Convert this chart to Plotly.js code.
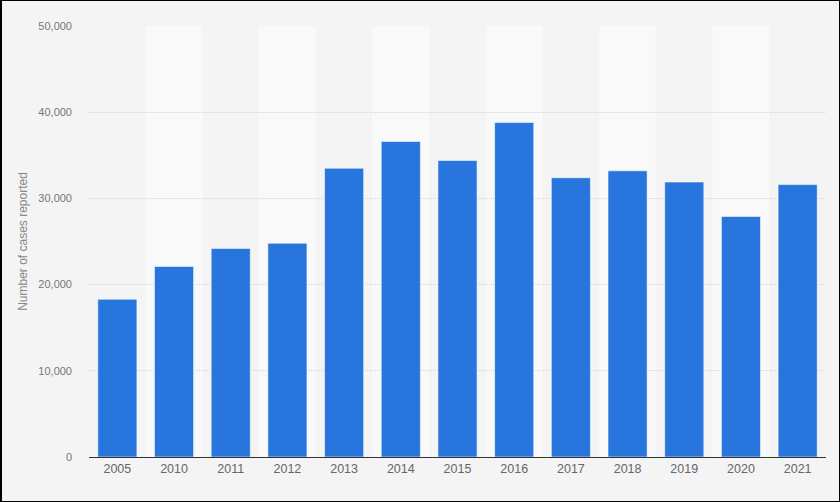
<!DOCTYPE html>
<html>
<head>
<meta charset="utf-8">
<script src="https://cdn.plot.ly/plotly-3.0.1.min.js"></script>
<style>
  html, body { margin: 0; padding: 0; background: #f4f4f4; }
  #wrap { position: relative; width: 840px; height: 502px; }
  #chart { width: 840px; height: 502px; }
  #frame { position: absolute; left: 0; top: 0; width: 840px; height: 502px; box-sizing: border-box;
           border: 1px solid #000; border-left-width: 2px; pointer-events: none; }
</style>
</head>
<body>
<div id="wrap">
  <div id="chart"></div>
  <div id="frame"></div>
</div>
<script>
const years = ["2005", "2010", "2011", "2012", "2013", "2014", "2015", "2016", "2017", "2018", "2019", "2020", "2021"];
const cases = [18300, 22100, 24200, 24800, 33500, 36600, 34400, 38800, 32400, 33200, 31900, 27900, 31600];
const yTicks = [0, 10000, 20000, 30000, 40000, 50000];

const bands = [];
years.forEach((y, i) => {
  if (i % 2 === 1) {
    bands.push({
      type: 'rect', xref: 'x', yref: 'y', layer: 'below',
      x0: i - 0.5, x1: i + 0.5, y0: 0, y1: 50000,
      fillcolor: '#f9f9f9', line: { width: 0 }
    });
  }
});

const trace = {
  type: 'bar',
  x: years.map((_, i) => i),
  y: cases,
  marker: { color: '#2876dd', line: { color: 'rgba(255,255,255,0.55)', width: 1 } },
  hoverinfo: 'none'
};

const layout = {
  width: 840, height: 502,
  margin: { l: 89, r: 14, t: 26, b: 45 },
  paper_bgcolor: '#f4f4f4',
  plot_bgcolor: '#f4f4f4',
  font: { family: 'Liberation Sans, Arial, sans-serif', color: '#666' },
  bargap: 0.31,
  showlegend: false,
  shapes: bands,
  xaxis: {
    type: 'linear',
    range: [-0.5, years.length - 0.5],
    tickvals: years.map((_, i) => i),
    ticktext: years,
    tickfont: { size: 12.5, color: '#666' },
    showgrid: false, zeroline: false,
    showline: true, linecolor: '#333', linewidth: 1,
    ticks: '', fixedrange: true
  },
  yaxis: {
    range: [0, 50000],
    tickvals: yTicks,
    ticktext: yTicks.map(v => v.toLocaleString('en-US')),
    tickfont: { size: 11, color: '#777' },
    ticks: '',
    ticklabelstandoff: 16,
    showgrid: true, gridcolor: '#d6d6d6', griddash: '1px,1px', gridwidth: 1,
    zeroline: false, showline: false,
    title: { text: 'Number of cases reported', font: { size: 12, color: '#888' }, standoff: 8 },
    fixedrange: true
  }
};

Plotly.newPlot('chart', [trace], layout, { displayModeBar: false, staticPlot: true });
</script>
</body>
</html>
